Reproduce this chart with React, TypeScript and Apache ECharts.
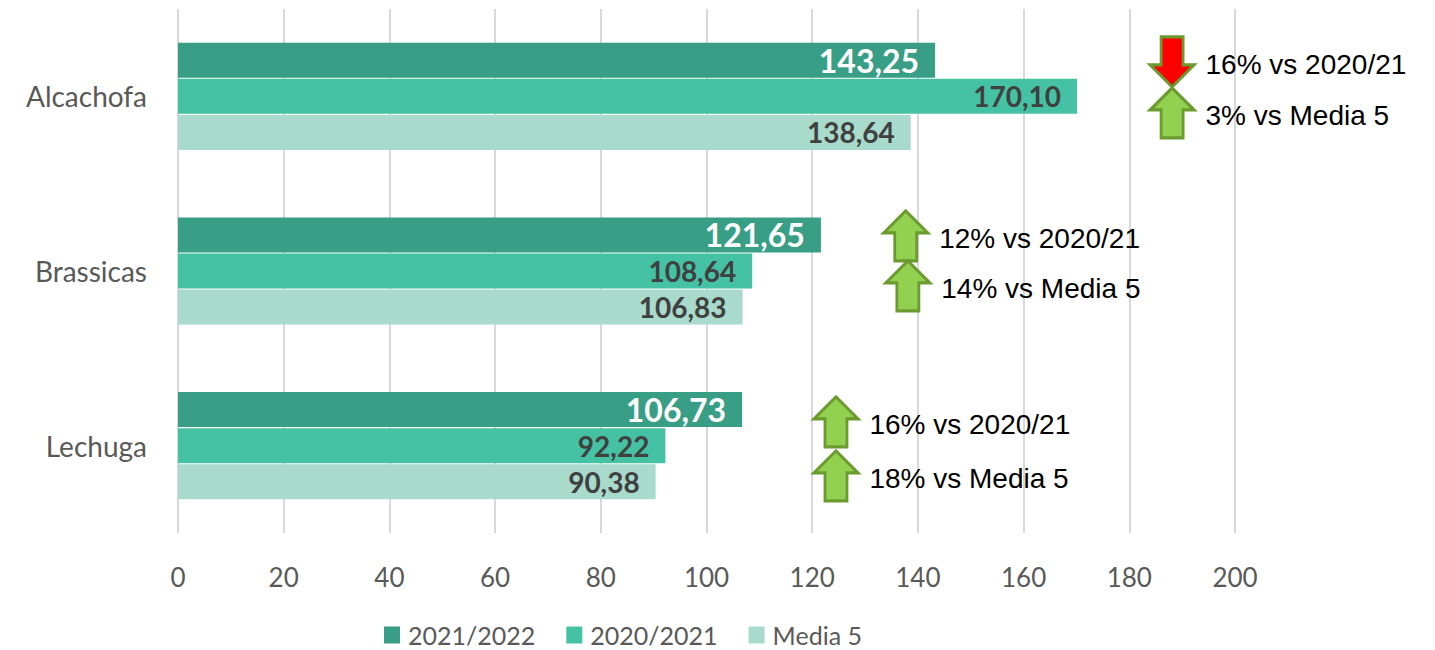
import React, { useEffect, useRef } from "react";
import * as echarts from "echarts";

const categories = ["Alcachofa", "Brassicas", "Lechuga"];
const seriesNames = ["2021/2022", "2020/2021", "Media 5"];
const values2122 = [143.25, 121.65, 106.73];
const values2021 = [170.1, 108.64, 92.22];
const valuesMedia5 = [138.64, 106.83, 90.38];
const xTicks = [0, 20, 40, 60, 80, 100, 120, 140, 160, 180, 200];

// annotations: x in axis units, y in category-band units (0 = top of first band)
const annotX = [188.1, 188.1, 137.7, 138.1, 124.5, 124.5];
const annotY = [0.303, 0.595, 1.299, 1.585, 2.364, 2.673];
const annotUp = [false, true, true, true, true, true];
const annotText = [
  "16% vs 2020/21",
  "3% vs Media 5",
  "12% vs 2020/21",
  "14% vs Media 5",
  "16% vs 2020/21",
  "18% vs Media 5",
];

const colors = ["#389E85", "#45C2A3", "#A8DBCB"];
const UP = "path://M22,0 L44,22 L33,22 L33,50 L11,50 L11,22 L0,22 Z";
const DOWN = "path://M11,0 L33,0 L33,28 L44,28 L22,50 L0,28 L11,28 Z";

const fmt = (v: number) => v.toFixed(2).replace(".", ",");

export default function App() {
  const ref = useRef<HTMLDivElement>(null);
  useEffect(() => {
    document.body.style.margin = "0";
    const chart = echarts.init(ref.current!, undefined, { renderer: "svg" });
    const barLabel = (white: boolean) => ({
      show: true,
      position: "insideRight",
      distance: 16,
      formatter: (p: any) => fmt(p.value),
      fontFamily: "Lato",
      fontWeight: "bold",
      fontSize: white ? 32 : 28,
      color: white ? "#FFFFFF" : "#404040",
    });
    const seriesVals = [values2122, values2021, valuesMedia5];
    chart.setOption({
      animation: false,
      textStyle: { fontFamily: "Lato" },
      grid: { left: 178, right: 200, top: 9, bottom: 117, containLabel: false },
      legend: {
        data: seriesNames,
        left: 384,
        top: 622,
        padding: 0,
        itemWidth: 16,
        itemHeight: 17,
        itemGap: 31,
        icon: "rect",
        textStyle: {
          fontFamily: "Lato",
          fontSize: 25,
          lineHeight: 26,
          color: "#595959",
          padding: [0, 0, 0, 3],
        },
      },
      xAxis: {
        type: "value",
        min: xTicks[0],
        max: xTicks[xTicks.length - 1],
        interval: xTicks[1] - xTicks[0],
        axisLine: { show: false },
        axisTick: { show: false },
        splitLine: { show: true, lineStyle: { color: "#D9D9D9", width: 2 } },
        axisLabel: { fontFamily: "Lato", fontSize: 26, color: "#595959", margin: 31 },
      },
      yAxis: [
        {
          type: "category",
          data: categories,
          inverse: true,
          axisLine: { show: false },
          axisTick: { show: false },
          axisLabel: { fontFamily: "Lato", fontSize: 28, color: "#595959", margin: 31 },
        },
        {
          type: "value",
          min: 0,
          max: categories.length,
          inverse: true,
          show: false,
          splitLine: { show: false },
        },
      ],
      series: [
        ...seriesNames.map((name, i) => ({
          name,
          type: "bar",
          yAxisIndex: 0,
          data: seriesVals[i],
          barWidth: 35,
          barGap: "3%",
          itemStyle: { color: colors[i] },
          label: barLabel(i === 0),
        })),
        {
          name: "annot",
          type: "scatter",
          yAxisIndex: 1,
          symbolSize: [44, 50],
          data: annotX.map((x, i) => ({
            value: [x, annotY[i]],
            symbol: annotUp[i] ? UP : DOWN,
            itemStyle: {
              color: annotUp[i] ? "#92D050" : "#FF0000",
              borderColor: "#6B9A2F",
              borderWidth: 3,
              opacity: 1,
            },
            label: {
              show: true,
              position: "right",
              distance: 10,
              offset: [0, 3],
              formatter: annotText[i],
              fontFamily: "Liberation Sans",
              fontSize: 28,
              color: "#000000",
            },
          })),
          z: 5,
        },
      ],
    });
    return () => chart.dispose();
  }, []);
  return <div ref={ref} style={{ width: 1435, height: 650 }} />;
}
